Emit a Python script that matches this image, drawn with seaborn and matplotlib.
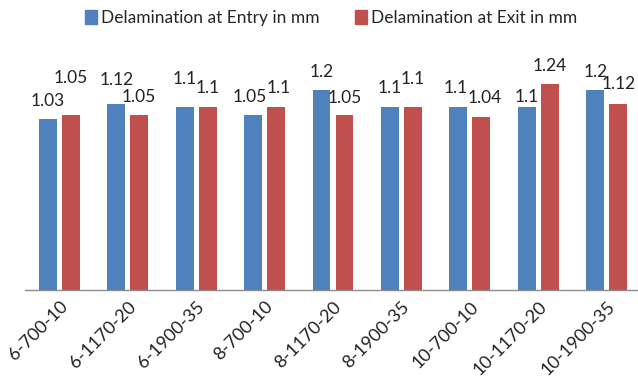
import seaborn as sns
import pandas as pd
import matplotlib.pyplot as plt


categories = ['6-700-10', '6-1170-20', '6-1900-35', '8-700-10', '8-1170-20',
              '8-1900-35', '10-700-10', '10-1170-20', '10-1900-35']
entry = [1.03, 1.12, 1.1, 1.05, 1.2, 1.1, 1.1, 1.1, 1.2]
exit_ = [1.05, 1.05, 1.1, 1.1, 1.05, 1.1, 1.04, 1.24, 1.12]
series = ['Delamination at Entry in mm', 'Delamination at Exit in mm']

# label lift above each bar (pixels), to mimic the staggered labels
entry_lift = [18, 24, 28, 18, 18, 19, 19, 10, 18]
exit_lift = [37, 18, 19, 19, 17, 28, 19, 18, 20]
# small sideways nudges (pixels) so crowded labels don't collide
entry_nudge = [0, 0, 0, -3, 0, 0, -3, 0, 0]
exit_nudge = [0, 0, 0, 3, 0, 0, 3, 0, 0]

df = pd.DataFrame({
    'Mix': categories * 2,
    'Value': entry + exit_,
    'Series': [series[0]] * len(entry) + [series[1]] * len(exit_),
})

sns.set_style('white')
plt.rcParams['font.family'] = ['Lato', 'DejaVu Sans']

fig = plt.figure(figsize=(6.38, 3.81), dpi=100)
ax = fig.add_axes([25 / 638, 91 / 381, 616 / 638, 233 / 381])

sns.barplot(data=df, x='Mix', y='Value', hue='Series',
            palette=['#4F81BD', '#C0504D'], saturation=1, width=0.67, gap=0.22,
            linewidth=0, ax=ax, legend=False)

ax.set_ylim(0, 1.4)
ax.set_xlim(-0.5, len(categories) - 0.5)

for cont, lifts, nudges in zip(ax.containers, [entry_lift, exit_lift],
                               [entry_nudge, exit_nudge]):
    for bar, lift, dx in zip(cont, lifts, nudges):
        h = bar.get_height()
        ax.annotate(f'{h:g}', (bar.get_x() + bar.get_width() / 2, h),
                    xytext=(dx * 0.72, lift * 0.72), textcoords='offset points',
                    ha='center', va='center', fontsize=12.5, color='#222222')

for s in ['top', 'right', 'left']:
    ax.spines[s].set_visible(False)
ax.spines['bottom'].set_color('#8c8c8c')
ax.spines['bottom'].set_linewidth(1)
ax.set_yticks([])
ax.set_xlabel('')
ax.set_ylabel('')
ax.tick_params(axis='x', length=0, pad=6)
plt.setp(ax.get_xticklabels(), rotation=45, ha='right',
         rotation_mode='anchor', fontsize=13, color='#222222')

handles = [plt.Rectangle((0, 0), 1, 1, color=c) for c in ['#4F81BD', '#C0504D']]
fig.legend(handles, series, loc='center', bbox_to_anchor=(331 / 638, 1 - 18 / 381),
           ncol=2, frameon=False, fontsize=12.5, handlelength=0.7,
           handleheight=0.9, handletextpad=0.25, columnspacing=2.0)

fig.savefig('out.png', dpi=100)
